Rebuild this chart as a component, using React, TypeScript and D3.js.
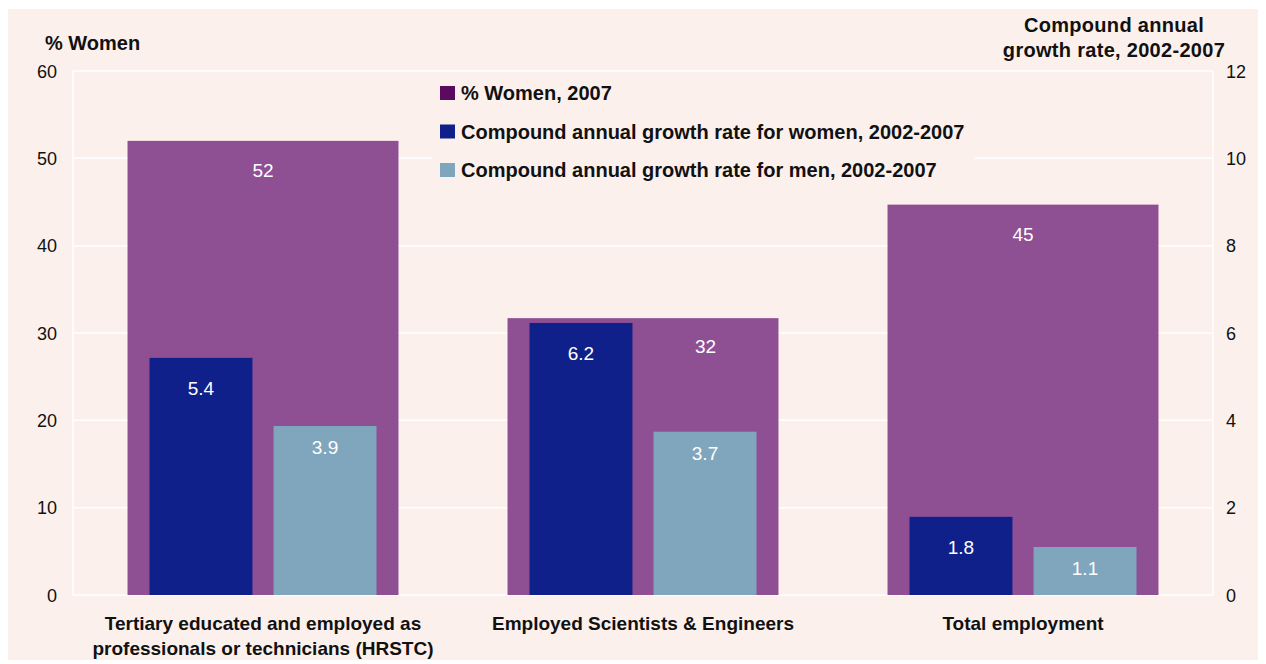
import React from 'react';
import * as d3 from 'd3';

const categories = [
  ['Tertiary educated and employed as', 'professionals or technicians (HRSTC)'],
  ['Employed Scientists & Engineers'],
  ['Total employment'],
];
const womenShare = [52.0, 31.7, 44.7];
const womenShareLabels = ['52', '32', '45'];
const growthWomen = [5.43, 6.23, 1.79];
const growthMen = [3.87, 3.74, 1.1];
const leftTicks = [0, 10, 20, 30, 40, 50, 60];
const rightTicks = [0, 2, 4, 6, 8, 10, 12];
const legendLabels = [
  '% Women, 2007',
  'Compound annual growth rate for women, 2002-2007',
  'Compound annual growth rate for men, 2002-2007',
];

const W = 1266;
const H = 664;
const margin = { top: 71, right: 53, bottom: 69, left: 73 };
const FONT = '"Liberation Sans", Arial, sans-serif';
const PANEL = '#fcf0ec';
const PURPLE = '#8e4f93';
const PURPLE_KEY = '#5b0b5f';
const NAVY = '#10208a';
const STEEL = '#80a6be';

export default function App() {
  const x0 = margin.left;
  const x1 = W - margin.right;
  const y0 = H - margin.bottom;
  const y1 = margin.top;

  const keys = categories.map((_, i) => String(i));
  const xScale = d3.scaleBand<string>().domain(keys).range([x0, x1]).paddingInner(0.287).paddingOuter(0.1435);
  const step = (x1 - x0) / keys.length;
  const yLeft = d3.scaleLinear().domain([0, 60]).range([y0, y1]);
  const yRight = d3.scaleLinear().domain([0, 12]).range([y0, y1]);

  const legendColors = [PURPLE_KEY, NAVY, STEEL];

  return (
    <svg width={W} height={H} style={{ display: 'block', position: 'absolute', left: 0, top: 0 }} fontFamily={FONT}>
      <rect x={0} y={0} width={W} height={H} fill="#ffffff" />
      <rect x={8} y={9} width={1250} height={651} fill={PANEL} />

      {/* gridlines */}
      {leftTicks.map(t => (
        <line key={'g' + t} x1={x0} x2={x1} y1={yLeft(t)} y2={yLeft(t)} stroke="#ffffff" strokeWidth={1.5} />
      ))}
      <line x1={x0} x2={x0} y1={y1} y2={y0} stroke="#ffffff" strokeWidth={1.5} />
      <line x1={x1} x2={x1} y1={y1} y2={y0} stroke="#ffffff" strokeWidth={1.5} />

      {/* bars */}
      {keys.map((k, i) => {
        const bx = xScale(k) as number;
        const bwide = xScale.bandwidth();
        const center = bx + bwide / 2;
        const sub = d3.scaleBand<string>().domain(['w', 'm']).range([center - 113.5, center + 113.5]).paddingInner(0.17).paddingOuter(0);
        const wx = sub('w') as number;
        const mx = sub('m') as number;
        const bw = sub.bandwidth();
        const topP = yLeft(womenShare[i]);
        const labelY = topP + 36;
        // if the women bar reaches the purple label, move it into the gap on the right
        const overlaps = yRight(growthWomen[i]) < labelY;
        const labelX = overlaps ? (wx + bw + bx + bwide) / 2 : center;
        return (
          <g key={k}>
            <rect x={bx} y={topP} width={bwide} height={y0 - topP} fill={PURPLE} />
            <text x={labelX} y={overlaps ? topP + 35 : labelY} textAnchor="middle" fill="#ffffff" fontSize={19}>{womenShareLabels[i]}</text>
            <rect x={wx} y={yRight(growthWomen[i])} width={bw} height={y0 - yRight(growthWomen[i])} fill={NAVY} />
            <text x={wx + bw / 2} y={yRight(growthWomen[i]) + 37} textAnchor="middle" fill="#ffffff" fontSize={19}>{growthWomen[i].toFixed(1)}</text>
            <rect x={mx} y={yRight(growthMen[i])} width={bw} height={y0 - yRight(growthMen[i])} fill={STEEL} />
            <text x={mx + bw / 2} y={yRight(growthMen[i]) + 28} textAnchor="middle" fill="#ffffff" fontSize={19}>{growthMen[i].toFixed(1)}</text>
          </g>
        );
      })}

      {/* left axis */}
      {leftTicks.map(t => (
        <text key={'l' + t} x={57} y={yLeft(t) + 6.5} textAnchor="end" fontSize={18} fill="#111">{t}</text>
      ))}
      <text x={45} y={50} fontSize={20} fontWeight="bold" fill="#111">% Women</text>

      {/* right axis */}
      {rightTicks.map(t => (
        <text key={'r' + t} x={1226} y={yRight(t) + 6.5} textAnchor="start" fontSize={18} fill="#111">{t}</text>
      ))}
      <text x={1114} y={32} textAnchor="middle" fontSize={20} fontWeight="bold" fill="#111" letterSpacing={0.3}>Compound annual</text>
      <text x={1114} y={57} textAnchor="middle" fontSize={20} fontWeight="bold" fill="#111" letterSpacing={0.3}>growth rate, 2002-2007</text>

      {/* category labels */}
      {categories.map((lines, i) => {
        const cx = x0 + step * i + step / 2;
        return (
          <text key={'c' + i} textAnchor="middle" fontSize={19} fontWeight="bold" fill="#111">
            {lines.map((ln, j) => (
              <tspan key={j} x={cx} y={630 + j * 25}>{ln}</tspan>
            ))}
          </text>
        );
      })}

      {/* legend */}
      <rect x={432} y={74} width={543} height={116} fill={PANEL} />
      {legendLabels.map((lab, i) => (
        <g key={'lg' + i}>
          <rect x={440} y={86 + i * 38.5} width={15} height={14} fill={legendColors[i]} />
          <text x={461} y={100 + i * 38.5} fontSize={20} fontWeight="bold" fill="#111">{lab}</text>
        </g>
      ))}
    </svg>
  );
}
